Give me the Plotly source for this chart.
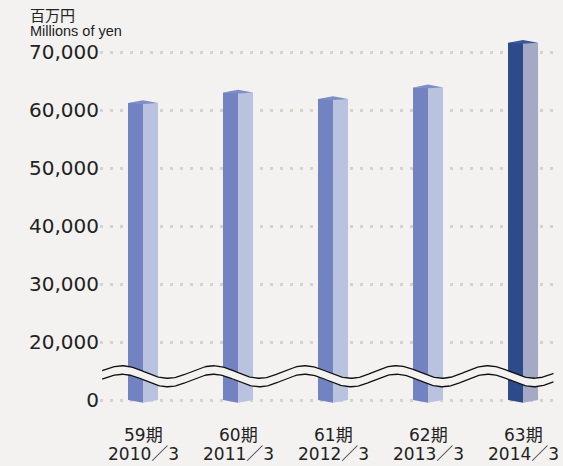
import numpy as np
import plotly.graph_objects as go

# ---- data ----
periods = ["59期", "60期", "61期", "62期", "63期"]
dates = ["2010／3", "2011／3", "2012／3", "2013／3", "2014／3"]
values = [61200, 63000, 61900, 63900, 71600]          # millions of yen
tick_vals = [10000, 20000, 30000, 40000, 50000, 60000, 70000]
tick_text = ["0", "20,000", "30,000", "40,000", "50,000", "60,000", "70,000"]
BASE = 10000   # where the "0" label sits on the broken axis

# ---- styles ----
BG = "#f3f2f0"
left_colors = ["#7383c1"] * 4 + ["#2d4b8b"]
right_colors = ["#b9c3e0"] * 4 + ["#a4aac5"]
cap_colors = ["#7e8ec9"] * 4 + ["#3b589a"]
W = 0.158          # width of one bar face (x units)
UP = 480           # cap rise (y units)
DN = 170           # cap front dip
DD = 470           # bottom front point drop
FONT_NUM = "DejaVu Sans, Noto Sans CJK JP, sans-serif"

idx = list(range(len(values)))
fig = go.Figure()

# two faces of each prism
fig.add_trace(go.Bar(x=idx, y=[v - BASE for v in values], base=BASE, width=W, offset=-W,
                     marker=dict(color=left_colors, line=dict(width=0)), hoverinfo="skip"))
fig.add_trace(go.Bar(x=idx, y=[v - BASE for v in values], base=BASE, width=W, offset=0,
                     marker=dict(color=right_colors, line=dict(width=0)), hoverinfo="skip"))

# caps and bottom points
for i, v in zip(idx, values):
    fig.add_trace(go.Scatter(x=[i - W, i, i + W, i, i - W], y=[v, v + UP, v, v - DN, v],
                             fill="toself", fillcolor=cap_colors[i], mode="lines",
                             line=dict(width=0), hoverinfo="skip"))
    fig.add_trace(go.Scatter(x=[i - W, i, i, i - W], y=[BASE, BASE, BASE - DD, BASE],
                             fill="toself", fillcolor=left_colors[i], mode="lines",
                             line=dict(width=0), hoverinfo="skip"))
    fig.add_trace(go.Scatter(x=[i, i + W, i, i], y=[BASE, BASE, BASE - DD, BASE],
                             fill="toself", fillcolor=right_colors[i], mode="lines",
                             line=dict(width=0), hoverinfo="skip"))

# wavy axis-break band
wx = np.linspace(-0.43, 4.32, 400)
period, xc = 0.963, -0.221
C, A, GAP = 14828, 1080, 1466
upper = C + A * np.cos(2 * np.pi * (wx - xc) / period)
lower = upper - GAP
fig.add_trace(go.Scatter(x=np.concatenate([wx, wx[::-1]]),
                         y=np.concatenate([upper, lower[::-1]]),
                         fill="toself", fillcolor=BG, mode="lines",
                         line=dict(width=0), hoverinfo="skip"))
for yy in (upper, lower):
    fig.add_trace(go.Scatter(x=wx, y=yy, mode="lines",
                             line=dict(color="#111111", width=1.3), hoverinfo="skip"))

# category labels
anns = []
for i in idx:
    anns.append(dict(x=i, y=-0.016, xref="x", yref="paper", text=periods[i], showarrow=False,
                     xanchor="center", yanchor="middle",
                     font=dict(family=FONT_NUM, size=17, color="#222222")))
    anns.append(dict(x=i, y=-0.0616, xref="x", yref="paper", text=dates[i], showarrow=False,
                     xanchor="center", yanchor="middle",
                     font=dict(family=FONT_NUM, size=17, color="#222222")))
# unit labels
anns.append(dict(x=-0.158, y=1.022, xref="paper", yref="paper", text="百万円", showarrow=False,
                 xanchor="left", yanchor="middle",
                 font=dict(family="Noto Sans CJK JP", size=15, color="#222222")))
anns.append(dict(x=-0.158, y=0.980, xref="paper", yref="paper", text="Millions of yen",
                 showarrow=False, xanchor="left", yanchor="middle",
                 font=dict(family="Liberation Sans", size=14.5, color="#222222")))

fig.update_layout(
    width=563, height=466,
    margin=dict(l=100, r=7, t=23, b=37),
    paper_bgcolor=BG, plot_bgcolor=BG,
    showlegend=False, barmode="overlay",
    annotations=anns,
    xaxis=dict(range=[-0.4526, 4.347], showgrid=False, showticklabels=False,
               zeroline=False, showline=False, ticks=""),
    yaxis=dict(range=[5000, 75000], tickvals=tick_vals, ticktext=tick_text,
               showgrid=True, gridcolor="#d9d2cb", gridwidth=3, griddash="3px,7px",
               zeroline=False, showline=False, ticks="",
               tickfont=dict(family=FONT_NUM, size=20, color="#222222")),
)

fig.write_html(
    "out.html",
    config={"displayModeBar": False},
    post_script="document.body.style.margin='0';document.body.style.overflow='hidden';"
                "document.body.style.background='" + BG + "';",
)
